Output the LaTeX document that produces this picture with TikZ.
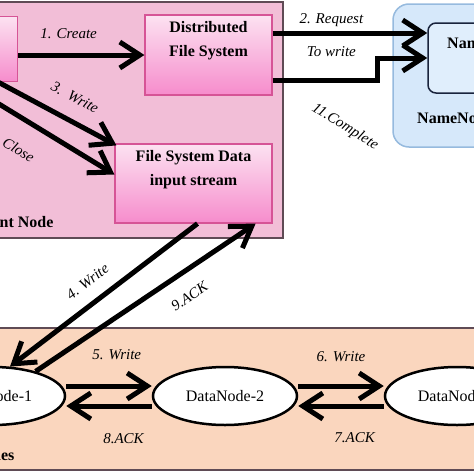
\documentclass[tikz,border=0pt]{standalone}
\usepackage{fontspec}
\setmainfont{Liberation Serif}
\usepackage{xcolor}
\usetikzlibrary{shapes,arrows.meta}

\definecolor{clientpink}{RGB}{242,190,215}
\definecolor{boxtop}{RGB}{252,226,241}
\definecolor{boxbottom}{RGB}{246,140,204}
\definecolor{boxedge}{RGB}{214,84,150}
\definecolor{areaedge}{RGB}{95,75,85}
\definecolor{nameblue}{RGB}{214,232,250}
\definecolor{nameedge}{RGB}{150,186,222}
\definecolor{innerblue}{RGB}{224,238,252}
\definecolor{navy}{RGB}{25,35,60}
\definecolor{peach}{RGB}{250,214,190}

\begin{document}
\begin{tikzpicture}[x=1pt, y=1pt, node distance=100pt]
	% % % % % % % % % % % % % % % % % % % % % % % % % % % % % %
	% Define styles
	\tikzstyle{block} = [rectangle, draw=boxedge, line width=1.2pt, top color=boxtop, bottom color=boxbottom,
					     minimum width=127pt, minimum height=80pt]
	\tikzstyle{blocktext} = [font=\fontsize{16}{24}\selectfont\bfseries, align=center, anchor=north, yshift=-3pt]
	\tikzstyle{nbox} = [rectangle, draw=navy, line width=1.5pt, fill=innerblue, rounded corners=8pt,
					     minimum width=114pt, minimum height=70pt]
	\tikzstyle{area} = [rectangle, draw=areaedge, line width=1.5pt]
	\tikzstyle{dnode} = [ellipse, draw, fill=white, line width=2.5pt, minimum width=144pt, minimum height=58pt,
					     font=\fontsize{16}{19}\selectfont]
	\tikzstyle{line} = [draw, -{Straight Barb[length=20pt,width=26pt]}, line width=5pt]
	\tikzstyle{lbl} = [font=\fontsize{15}{18}\selectfont\itshape, inner sep=1pt]
	\tikzstyle{arealabel} = [font=\fontsize{16}{19}\selectfont\bfseries]

	\useasboundingbox (0,0) rectangle (474,-474);

	% % % % % % % % % % % % % % % % % % % % % % % % % % % % % %
	% Place areas
	\node [area, fill=clientpink, minimum width=463pt, minimum height=236pt] (ca) at (51.5,-120) {};
	\node [area, draw=nameedge, fill=nameblue, rounded corners=16pt, minimum width=190pt, minimum height=143pt] (na) at (488,-75.5) {};
	\node [area, fill=peach, minimum width=900pt, minimum height=142pt] (da) at (250,-399) {};

	% Place nodes
	% client side
	\node [block] (dfs) at (208.5,-55) {};
	\node [blocktext] (dfst) at (dfs.north) {Distributed\\File System};
	\node [block, minimum height=65pt, left of=dfs, node distance=254.5pt, yshift=6pt] (cl) {};
	\node [block, minimum width=157pt, minimum height=79pt, below of=dfs, node distance=128.5pt, xshift=-15pt] (fsd) {};
	\node [blocktext] (fsdt) at (fsd.north) {File System Data\\input stream};
	\node [arealabel, anchor=east] (cnl) at (57,-222) {Client Node};
	% name node
	\node [nbox, right of=dfs, node distance=276.5pt, yshift=-3pt] (nn) {};
	\node [blocktext, yshift=-9pt] (nnt) at (nn.north) {NameNode};
	\node [arealabel] (nnl) at (455,-118) {NameNode};
	% data nodes
	\node [dnode] (dn2) at (225,-396) {DataNode-2};
	\node [dnode, left of=dn2, node distance=232pt] (dn1) {DataNode-1};
	\node [dnode, right of=dn2, node distance=232pt] (dn3) {DataNode-3};
	\node [arealabel, anchor=east] (dnl) at (18,-455) {DataNodes};

	% Draw edges
	\path [line] (cl.east |- dfs.west) -- node[lbl, above=13pt, pos=0.4] {1. Create} (dfs.west);
	\path [line] ([yshift=22pt]dfs.east) -- node[lbl, above=3pt, pos=0.38] {2. Request}
		node[lbl, below=10pt, pos=0.38] {To write} ([yshift=22pt]dfs.east -| nn.west);
	\path [line] ([xshift=-20pt]cl.south east) -- node[lbl, sloped, above=14pt, pos=0.56] {3.\ \ Write}
		([xshift=2pt,yshift=-2pt]fsd.north west);
	\path [line] ([xshift=-55pt]cl.south east) -- node[lbl, sloped, below=20pt, pos=0.4] {10. Close}
		([yshift=9pt]fsd.west);
	% %
	\path [line] ([xshift=4pt]fsd.south) -- node[lbl, sloped, above=12pt, pos=0.52] {4. Write} (dn1.60);
	\path [line] (dn1.30) -- node[lbl, sloped, below=15pt, pos=0.64] {9.ACK} ([xshift=-17pt]fsd.south east);
	% %
	\path [line] ([yshift=10pt]dn1.east) -- node[lbl, above=23pt, pos=0.59] {5. Write} ([yshift=10pt]dn2.west);
	\path [line] ([yshift=-10pt]dn2.west) -- node[lbl, below=24pt, pos=0.33] {8.ACK} ([yshift=-10pt]dn1.east);
	\path [line] ([yshift=10pt]dn2.east) -- node[lbl, above=21pt] {6. Write} ([yshift=10pt]dn3.west);
	\path [line] ([yshift=-10pt]dn3.west) -- node[lbl, below=23pt, pos=0.34] {7.ACK} ([yshift=-10pt]dn2.east);
	% %
	\path [line] ([yshift=-25pt]dfs.east) -- ++(105pt,0) |- (nn.west);
	\node [lbl, rotate=-32] (cpl) at (345,-127) {11.Complete};
\end{tikzpicture}
\end{document}
